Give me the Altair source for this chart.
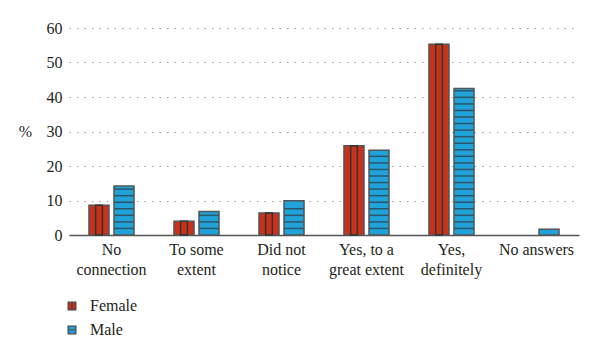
import altair as alt
import pandas as pd

categories = ["No|connection", "To some|extent", "Did not|notice",
              "Yes, to a|great extent", "Yes,|definitely", "No answers"]
genders = ["Female", "Male"]
female = [8.6, 4.0, 6.4, 25.9, 55.3, 0.0]
male = [14.2, 6.8, 9.9, 24.6, 42.5, 1.7]
colors = ["#C8321A", "#1FA3DA"]

rows = []
for c, f, m in zip(categories, female, male):
    rows.append({"cat": c, "gender": "Female", "value": f})
    rows.append({"cat": c, "gender": "Male", "value": m})
df = pd.DataFrame(rows)

# decorative hatch lines for male bars (pattern step in data units)
step = 1.9
hatch = []
for c, m in zip(categories, male):
    k = 1
    while k * step < m - 0.6:
        hatch.append({"cat": c, "gender": "Male", "value": k * step})
        k += 1
hdf = pd.DataFrame(hatch)

FONT = "Liberation Serif, DejaVu Serif, serif"
TXT = "#231F20"

xscale = alt.Scale(domain=categories, paddingInner=0.47, paddingOuter=0.235)
xoscale = alt.Scale(domain=genders, paddingInner=0.2, paddingOuter=0)
yscale = alt.Scale(domain=[0, 60], nice=False)

xaxis = alt.Axis(labelExpr="split(datum.label, '|')", labelAngle=0,
                 labelLineHeight=20.5, labelPadding=6, ticks=False,
                 domainColor="#555555", domainWidth=1.5, grid=False,
                 labelBaseline="top", title=None)
yaxis = alt.Axis(values=[0, 10, 20, 30, 40, 50, 60], title="%", titleAngle=0,
                 titleX=-44, titleY=103, titleBaseline="middle", titleAlign="center",
                 labelPadding=7, ticks=False, domain=False, grid=True,
                 gridColor="#9a9a9a", gridDash=[1.5, 6], gridWidth=1.2)


def enc_x():
    return alt.X("cat:N", sort=categories, title=None, scale=xscale, axis=xaxis)


def enc_xo():
    return alt.XOffset("gender:N", scale=xoscale)


def enc_y():
    return alt.Y("value:Q", title="%", scale=yscale, axis=yaxis)


shape_sig = ("datum.value == 'Female' ? 'M-1,-1H1V1H-1Z M0,-1V1' "
             ": 'M-1,-1H1V1H-1Z M-1,0H1'")

bars = alt.Chart(df).transform_filter("datum.value > 0").mark_bar(
    stroke="#555555", strokeWidth=1.5).encode(
    x=enc_x(), xOffset=enc_xo(), y=enc_y(),
    color=alt.Color("gender:N", scale=alt.Scale(domain=genders, range=colors),
                    legend=alt.Legend(title=None, orient="none", legendX=-5, legendY=270,
                                      direction="vertical",
                                      symbolType=alt.ExprRef(expr=shape_sig),
                                      symbolSize=60, symbolStrokeColor="#444444",
                                      symbolStrokeWidth=1.2, labelOffset=10,
                                      rowPadding=8, padding=0)),
)

stripes = alt.Chart(df).transform_filter(
    "datum.gender == 'Female' && datum.value > 0"
).mark_bar(width=6.7, fill="transparent", stroke="#333333", strokeWidth=1.5).encode(
    x=enc_x(), xOffset=enc_xo(), y=enc_y()
)

ticks = alt.Chart(hdf).mark_tick(orient="horizontal", size=19, thickness=1.5,
                                 color="#333333").encode(
    x=enc_x(), xOffset=enc_xo(), y=enc_y()
)

chart = alt.layer(bars, stripes, ticks).properties(
    width=510, height=207,
    padding={"left": 61, "top": 20, "right": 12, "bottom": 120},
    autosize="none", background="white"
).configure(font=FONT).configure_view(stroke=None).configure_axis(
    labelFont=FONT, labelFontSize=16, labelColor=TXT,
    titleFont=FONT, titleFontSize=16, titleFontWeight="normal", titleColor=TXT
).configure_legend(labelFont=FONT, labelFontSize=16, labelColor=TXT)

chart.save("out.html", embed_options={"renderer": "svg", "actions": False})
